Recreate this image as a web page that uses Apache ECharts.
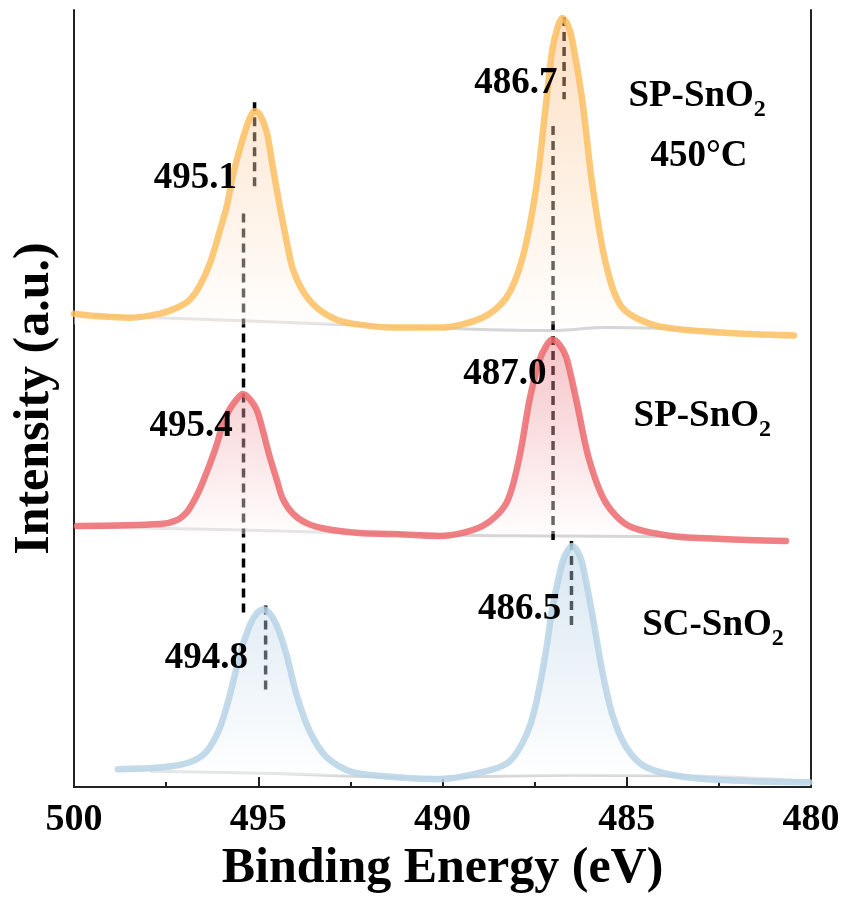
<!DOCTYPE html>
<html>
<head>
<meta charset="utf-8">
<script src="https://cdn.jsdelivr.net/npm/echarts@6/dist/echarts.min.js"></script>
<style>
  html, body { margin: 0; padding: 0; background: #fff; }
  #chart { width: 845px; height: 899px; }
</style>
</head>
<body>
<div id="chart"></div>
<script>
// Sn 3d spectra, binding energy (eV) vs intensity (a.u.), stacked with offsets
const energyAnnealed = [500.00, 499.49, 498.48, 497.67, 497.21, 496.86, 496.59, 496.31, 496.04, 495.85, 495.69, 495.50, 495.31, 495.18, 495.09, 494.96, 494.77, 494.61, 494.42, 494.23, 494.07, 493.79, 493.41, 492.87, 492.25, 491.36, 490.08, 488.92, 488.27, 487.83, 487.45, 487.18, 487.02, 486.88, 486.75, 486.61, 486.48, 486.21, 485.93, 485.56, 485.12, 484.20, 482.41, 480.46]
const intensityAnnealed = [477, 475, 473, 477, 483, 491, 505, 528, 561, 586, 616, 643, 666, 678, 681, 678, 660, 626, 586, 550, 523, 500, 483, 471, 466, 463, 463, 473, 493, 533, 606, 693, 743, 765, 775, 769, 753, 693, 606, 526, 483, 465, 458, 455]

const energySP = [499.92, 497.67, 497.21, 496.94, 496.78, 496.59, 496.31, 496.12, 495.96, 495.77, 495.58, 495.42, 495.23, 495.04, 494.88, 494.69, 494.50, 494.34, 494.07, 493.69, 493.14, 492.25, 491.36, 490.08, 488.92, 488.27, 487.91, 487.64, 487.37, 487.18, 487.02, 486.83, 486.64, 486.37, 486.02, 485.56, 484.93, 483.77, 482.41, 480.68]
const intensitySP = [263, 265, 269, 277, 286, 300, 326, 346, 366, 381, 391, 396, 391, 380, 360, 333, 310, 291, 276, 266, 260, 256, 255, 253, 263, 286, 333, 390, 430, 445, 451, 446, 433, 390, 330, 286, 263, 253, 250, 248]

const energySC = [498.81, 497.59, 496.86, 496.40, 496.04, 495.77, 495.50, 495.23, 495.04, 494.85, 494.69, 494.50, 494.23, 493.96, 493.60, 493.14, 492.44, 491.25, 490.08, 488.81, 488.18, 487.72, 487.45, 487.18, 487.02, 486.75, 486.61, 486.48, 486.34, 486.21, 485.93, 485.66, 485.39, 485.01, 484.47, 483.39, 481.60, 480.05]
const intensitySC = [18, 20, 25, 36, 60, 93, 133, 163, 175, 179, 175, 163, 133, 93, 56, 30, 15, 10, 8, 16, 26, 53, 86, 140, 180, 226, 238, 243, 238, 226, 173, 116, 73, 40, 20, 10, 6, 5]

// fitted backgrounds
const bgEnergyAnnealed = [499.49, 495.42, 491.17, 487.02, 485.56, 482.49]
const bgIntensityAnnealed = [475, 470, 464, 460, 463, 460]
const bgEnergySP = [499.49, 495.42, 490.08, 487.02, 482.68]
const bgIntensitySP = [262, 259, 254, 253, 252]
const bgEnergySC = [497.94, 494.85, 490.62, 486.48, 483.04, 480.05]
const bgIntensitySC = [16, 14, 10, 12, 11, 6]

// peak guide lines: position, top, bottom
const guideEnergy = [495.1, 495.4, 486.7, 487.0, 494.8, 486.5]
const guideTop = [690, 578, 776, 666, 183, 248]
const guideBottom = [605, 175, 693, 245, 98, 163]

// peak labels: text, right edge energy, centre intensity
const peakText = ['495.1', '486.7', '487.0', '495.4', '486.5', '494.8']
const peakLabelEnergy = [495.58, 486.88, 487.18, 495.69, 486.78, 495.28]
const peakLabelY = [613, 709, 416, 363, 179, 130]

const sampleText = ['{m|SP-SnO}{s|2}', '{m|450°C}', '{m|SP-SnO}{s|2}', '{m|SC-SnO}{s|2}']
const sampleEnergy = [483.09, 483.04, 482.95, 482.66]
const sampleY = [696, 635, 373, 163]

const xTicks = [480, 485, 490, 495, 500]

const FONT = '"Liberation Serif", "Times New Roman", serif'

const zip = (xs, ys) => xs.map((x, i) => [x, ys[i]])

function spectrum(name, xs, ys, origin, line, top) {
  return {
    name,
    type: 'line',
    data: zip(xs, ys),
    smooth: 0.3,
    showSymbol: false,
    z: 3,
    lineStyle: { color: line, width: 6.5, opacity: 0.85, cap: 'round' },
    areaStyle: {
      origin,
      color: new echarts.graphic.LinearGradient(0, 0, 0, 1, [
        { offset: 0, color: top },
        { offset: 1, color: 'rgba(255,255,255,0.6)' }
      ])
    }
  }
}

function background(xs, ys) {
  return {
    type: 'line',
    data: zip(xs, ys),
    smooth: 0.4,
    showSymbol: false,
    z: 1,
    lineStyle: { color: '#d6d6d6', width: 3 }
  }
}

const chart = echarts.init(document.getElementById('chart'))

const guides = guideEnergy.map((e, i) => ({
  type: 'line',
  data: [[e, guideTop[i]], [e, guideBottom[i]]],
  showSymbol: false,
  z: 2,
  lineStyle: { color: '#000', width: 3.5, type: [9, 6] }
}))

const labelBase = { fontFamily: FONT, fontWeight: 'bold', color: '#000', opacity: 1 }

const option = {
  animation: false,
  grid: { left: 74, right: 34, top: 10, bottom: 106 },
  xAxis: [
    {
      type: 'value',
      min: 480,
      max: 500,
      interval: 5,
      inverse: true,
      name: 'Binding Energy (eV)',
      nameLocation: 'middle',
      nameGap: 47,
      nameTextStyle: { fontFamily: FONT, fontWeight: 'bold', fontSize: 50, color: '#000' },
      axisLine: { lineStyle: { color: '#222', width: 2 } },
      axisTick: { inside: true, length: 10, lineStyle: { color: '#222', width: 2 } },
      minorTick: { show: true, splitNumber: 2, length: 5, lineStyle: { color: '#222', width: 2 } },
      axisLabel: {
        margin: 14,
        fontFamily: FONT, fontWeight: 'bold', fontSize: 38, color: '#000',
        formatter: v => xTicks.includes(v) ? String(v) : ''
      },
      splitLine: { show: false }
    },
    {
      type: 'value', position: 'top', min: 480, max: 500, inverse: true,
      axisLine: { show: true, lineStyle: { color: '#222', width: 2 } },
      axisTick: { show: false }, axisLabel: { show: false }, splitLine: { show: false }
    }
  ],
  yAxis: [
    {
      type: 'value',
      min: 0,
      max: 783,
      name: 'Intensity (a.u.)',
      nameLocation: 'middle',
      nameRotate: 90,
      nameGap: 14,
      nameTextStyle: { fontFamily: FONT, fontWeight: 'bold', fontSize: 50, color: '#000' },
      axisLine: { show: true, lineStyle: { color: '#222', width: 2 } },
      axisTick: { show: false }, axisLabel: { show: false }, splitLine: { show: false }
    },
    {
      type: 'value', position: 'right', min: 0, max: 783,
      axisLine: { show: true, lineStyle: { color: '#222', width: 2 } },
      axisTick: { show: false }, axisLabel: { show: false }, splitLine: { show: false }
    }
  ],
  series: [
    background(bgEnergyAnnealed, bgIntensityAnnealed),
    background(bgEnergySP, bgIntensitySP),
    background(bgEnergySC, bgIntensitySC),
    ...guides,
    spectrum('SP-SnO2 450°C', energyAnnealed, intensityAnnealed, 466, '#fdbf62', 'rgba(248,180,113,0.6)'),
    spectrum('SP-SnO2', energySP, intensitySP, 255, '#ec6a6e', 'rgba(230,113,121,0.6)'),
    spectrum('SC-SnO2', energySC, intensitySC, 12, '#b7d3e6', 'rgba(163,197,222,0.6)'),
    {
      type: 'scatter',
      symbolSize: 0,
      z: 5,
      itemStyle: { opacity: 1 },
      data: zip(peakLabelEnergy, peakLabelY),
      label: {
        show: true,
        position: 'left',
        distance: 0,
        formatter: p => peakText[p.dataIndex],
        ...labelBase,
        fontSize: 37
      }
    },
    {
      type: 'scatter',
      symbolSize: 0,
      z: 5,
      itemStyle: { opacity: 1 },
      data: zip(sampleEnergy, sampleY),
      label: {
        show: true,
        position: 'inside',
        formatter: p => sampleText[p.dataIndex],
        ...labelBase,
        rich: {
          m: { ...labelBase, fontSize: 37 },
          s: { ...labelBase, fontSize: 24, padding: [26, 0, 0, 0] }
        }
      }
    }
  ]
}

chart.setOption(option)
</script>
</body>
</html>
